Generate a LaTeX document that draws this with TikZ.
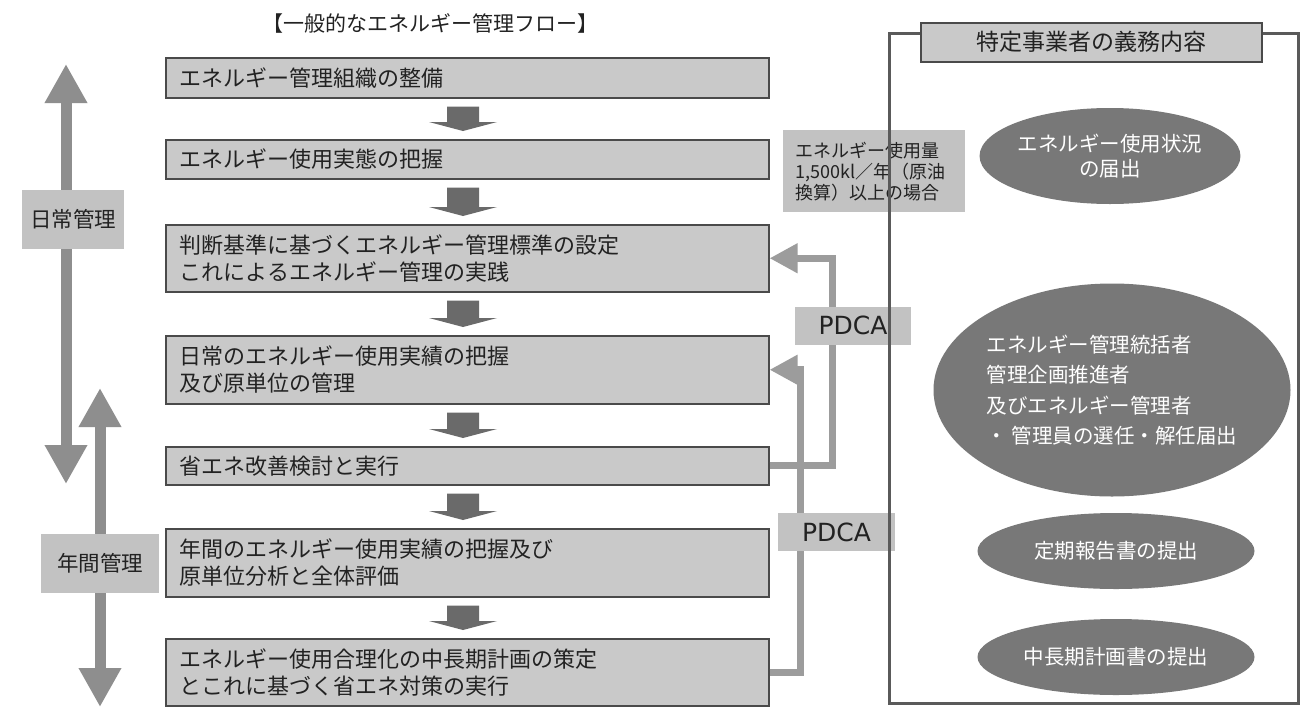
\documentclass[tikz,border=0pt]{standalone}
\usepackage{fontspec}
\setmainfont{Noto Sans CJK JP}
\newfontfamily\pdcafont{DejaVu Sans}
\usetikzlibrary{arrows.meta,calc,shapes.geometric}
\definecolor{boxfill}{HTML}{C9C9C9}
\definecolor{boxborder}{HTML}{4A4A4A}
\definecolor{labelfill}{HTML}{C2C2C2}
\definecolor{blockgray}{HTML}{6A6A6A}
\definecolor{sidegray}{HTML}{8E8E8E}
\definecolor{loopgray}{HTML}{9C9C9C}
\definecolor{ellgray}{HTML}{787878}
\definecolor{framegray}{HTML}{5A5A5A}
\definecolor{textc}{HTML}{222222}
\tikzset{
  flowbox/.style={draw=boxborder, line width=1.5pt, fill=boxfill, anchor=north west,
    minimum width=603pt, text width=575pt, inner xsep=14pt, inner ysep=0pt, align=left,
    text=textc, font=\fontsize{22pt}{27pt}\selectfont},
  sidelabel/.style={fill=labelfill, inner sep=0pt, text=textc, font=\fontsize{21.5pt}{25pt}\selectfont},
  infobox/.style={fill=labelfill, inner sep=0pt, text=textc},
  pdcalabel/.style={fill=labelfill, inner sep=0pt, minimum height=38pt, text=textc,
    font=\pdcafont\fontsize{25pt}{28pt}\selectfont},
  blockarrow/.style={fill=blockgray},
  sidearrow/.style={draw=sidegray, line width=11pt, -{Triangle[length=39pt,width=40pt]}},
  loopline/.style={draw=loopgray, line width=7pt, -{Triangle[length=28pt,width=28pt]}},
  duty/.style={ellipse, fill=ellgray, inner sep=0pt, text=white, align=center,
    font=\fontsize{20.5pt}{25pt}\selectfont},
}
\newcommand{\flowarrow}[2]{%
  \fill[blockarrow] ($(#1.south -| axis)+(-16,8)$) -- ($(#1.south -| axis)+(16,8)$)
    -- ($(#2.north -| axis)+(16,-17)$) -- ($(#2.north -| axis)+(34,-17)$)
    -- ($(#2.north -| axis)+(0,-8)$) -- ($(#2.north -| axis)+(-34,-17)$)
    -- ($(#2.north -| axis)+(-16,-17)$) -- cycle;}
\begin{document}
\begin{tikzpicture}[x=1pt,y=-1pt]
\fill[white] (0,0) rectangle (1303,707);
\useasboundingbox (0,0) rectangle (1303,707);

% title
\node[text=textc, font=\fontsize{21pt}{24pt}\selectfont] (title) at (430,23) {【一般的なエネルギー管理フロー】};

% flow boxes
\node[flowbox, minimum height=40pt] (b1) at (165,57) {エネルギー管理組織の整備};
\node[flowbox, minimum height=39pt] (b2) at (165,139) {エネルギー使用実態の把握};
\node[flowbox, minimum height=67pt] (b3) at (165,224) {判断基準に基づくエネルギー管理標準の設定\\これによるエネルギー管理の実践};
\node[flowbox, minimum height=68pt] (b4) at (165,335) {日常のエネルギー使用実績の把握\\及び原単位の管理};
\node[flowbox, minimum height=38pt] (b5) at (165,446) {省エネ改善検討と実行};
\node[flowbox, minimum height=68pt] (b6) at (165,528) {年間のエネルギー使用実績の把握及び\\原単位分析と全体評価};
\node[flowbox, minimum height=67pt] (b7) at (165,638) {エネルギー使用合理化の中長期計画の策定\\とこれに基づく省エネ対策の実行};

% block arrows
\coordinate (axis) at (463,0);
\flowarrow{b1}{b2}
\flowarrow{b2}{b3}
\flowarrow{b3}{b4}
\flowarrow{b4}{b5}
\flowarrow{b5}{b6}
\flowarrow{b6}{b7}

% left side
\node[sidelabel, minimum width=102pt, minimum height=59pt] (daily) at (73,219.5) {日常管理};
\node[sidelabel, minimum width=118pt, minimum height=59pt] (yearly) at (100,563.5) {年間管理};
\coordinate (dup) at (66,64);
\coordinate (ddown) at (66,484);
\coordinate (yup) at (100,388);
\coordinate (ydown) at (100,707);
\draw[sidearrow] (daily.north -| dup) -- (dup);
\draw[sidearrow] (daily.south -| ddown) -- (ddown);
\draw[sidearrow] (yearly.north -| yup) -- (yup);
\draw[sidearrow] (yearly.south -| ydown) -- (ydown);

% PDCA loops
\coordinate (loopA) at (832,0);
\coordinate (loopB) at (800,0);
\draw[loopline] (b5.east) -- (b5.east -| loopA) |- (b3.east);
\draw[loopline] (b7.east) -- (b7.east -| loopB) |- (b4.east);
\node[pdcalabel, minimum width=116pt] (pdca1) at (853,325.5) {PDCA};
\node[pdcalabel, minimum width=117pt] (pdca2) at (836.5,532) {PDCA};

% info box
\node[infobox, anchor=north west, minimum width=182pt, minimum height=82pt, text width=158pt,
  inner xsep=12pt, align=left, font=\fontsize{18pt}{21pt}\selectfont] (info) at (783,130)
  {エネルギー使用量\\1,500kl／年（原油\\換算）以上の場合};

% right frame
\node[draw=framegray, line width=3pt, anchor=north west, minimum width=409pt, minimum height=670pt, inner sep=0pt] (frame) at (888,32) {};
\node[draw=boxborder, line width=1.5pt, fill=boxfill, anchor=north west, minimum width=341pt, minimum height=39pt, inner sep=0pt,
  text=textc, font=\fontsize{23pt}{26pt}\selectfont] (duties) at (920,22) {特定事業者の義務内容};

% ellipses
\node[duty, minimum width=226pt, minimum height=96pt] (e1) at (1110,156) {エネルギー使用状況\\の届出};
\node[duty, minimum width=357pt, minimum height=213pt, align=left, font=\fontsize{20.5pt}{30.5pt}\selectfont] (e2) at (1112,390)
  {エネルギー管理統括者\\管理企画推進者\\及びエネルギー管理者\\・ 管理員の選任・解任届出};
\node[duty, minimum width=277pt, minimum height=76pt] (e3) at (1116,551) {定期報告書の提出};
\node[duty, minimum width=277pt, minimum height=76pt] (e4) at (1116,657) {中長期計画書の提出};
\end{tikzpicture}
\end{document}
